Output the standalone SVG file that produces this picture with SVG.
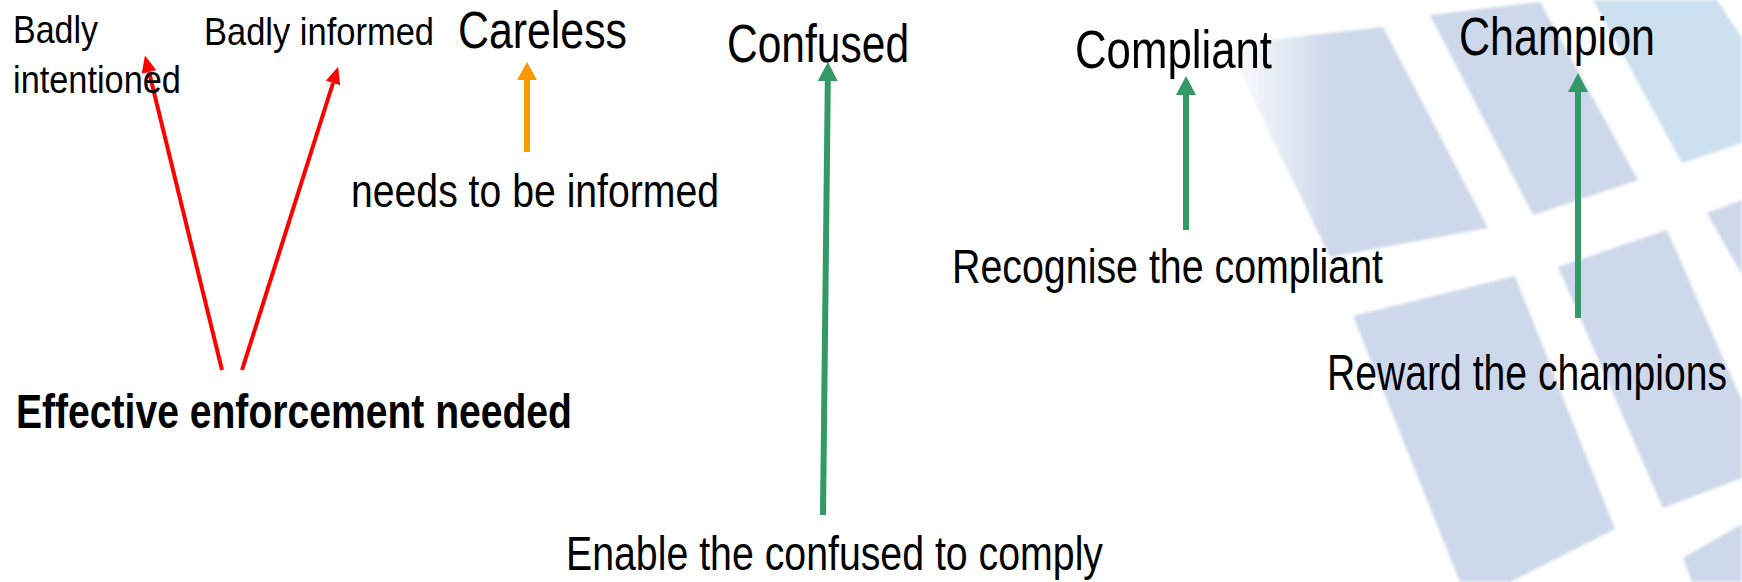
<svg xmlns="http://www.w3.org/2000/svg" width="1742" height="582" viewBox="0 0 1742 582">
<style>
  .t { font-family: "Liberation Sans", Arial, sans-serif; fill: #000; }
  .b { font-weight: bold; }
  .tile { fill: #CDD8EA; }
  .tile2 { fill: #CCE0F0; }
  .red { stroke: #FF0000; stroke-width: 4; fill: none; }
  .org { stroke: #FF9900; stroke-width: 6; fill: none; }
  .grn { stroke: #339966; stroke-width: 6; fill: none; }
</style>
<defs>
  <filter id="soft" x="-5%" y="-5%" width="110%" height="110%"><feGaussianBlur stdDeviation="1.5"/></filter>
  <linearGradient id="fadeL" x1="1225" y1="0" x2="1330" y2="0" gradientUnits="userSpaceOnUse">
    <stop offset="0" stop-color="#CDD8EA" stop-opacity="0"/>
    <stop offset="1" stop-color="#CDD8EA" stop-opacity="1"/>
  </linearGradient>
  <marker id="hRed" markerUnits="userSpaceOnUse" markerWidth="17" markerHeight="15" refX="0" refY="7.5" orient="auto">
    <path d="M0,0 L17,7.5 L0,15 z" fill="#FF0000"/>
  </marker>
  <marker id="hOrg" markerUnits="userSpaceOnUse" markerWidth="18" markerHeight="20" refX="0" refY="10" orient="auto">
    <path d="M0,0 L18,10 L0,20 z" fill="#FF9900"/>
  </marker>
  <marker id="hGrn" markerUnits="userSpaceOnUse" markerWidth="19" markerHeight="20" refX="0" refY="10" orient="auto">
    <path d="M0,0 L19,10 L0,20 z" fill="#339966"/>
  </marker>
</defs>
<rect width="1742" height="582" fill="#FFFFFF"/>
<g id="background" filter="url(#soft)">
  <polygon fill="url(#fadeL)" points="1227,45 1383,27 1488,228 1330,257"/>
  <polygon class="tile" points="1430,15 1540,2 1638,180 1533,215"/>
  <polygon class="tile2" points="1593,0 1717,0 1742,38 1742,143 1682,163"/>
  <polygon class="tile" points="1558,267 1667,230 1742,401 1742,478 1663,508"/>
  <polygon class="tile" points="1707,213 1742,200 1742,275"/>
  <polygon class="tile" points="1353,316 1515,276 1615,529 1510,582 1460,582"/>
  <polygon class="tile" points="1683,558 1742,524 1742,582 1692,582"/>
</g>
<g id="connectors">
  <line class="red" x1="222" y1="370" x2="149" y2="72" marker-end="url(#hRed)"/>
  <line class="red" x1="242" y1="370" x2="333" y2="83" marker-end="url(#hRed)"/>
  <line class="org" x1="527" y1="152" x2="527" y2="80" marker-end="url(#hOrg)"/>
  <line class="grn" x1="823" y1="515" x2="827.8" y2="81" marker-end="url(#hGrn)"/>
  <line class="grn" x1="1186" y1="230" x2="1186" y2="95" marker-end="url(#hGrn)"/>
  <line class="grn" x1="1578" y1="318" x2="1578" y2="92" marker-end="url(#hGrn)"/>
</g>
<g id="badly-intentioned">
  <text class="t" transform="translate(13,43) scale(0.895,1)" font-size="38" textLength="95" lengthAdjust="spacingAndGlyphs">Badly</text>
  <text class="t" transform="translate(13,93) scale(0.904,1)" font-size="38" textLength="185.8" lengthAdjust="spacingAndGlyphs">intentioned</text>
</g>
<g id="badly-informed">
  <text class="t" transform="translate(204,45) scale(0.908,1)" font-size="38" textLength="253.3" lengthAdjust="spacingAndGlyphs">Badly informed</text>
</g>
<g id="careless">
  <text class="t" transform="translate(458,48) scale(0.84,1)" font-size="51" textLength="201.2" lengthAdjust="spacingAndGlyphs">Careless</text>
</g>
<g id="needs-informed">
  <text class="t" transform="translate(351,207) scale(0.834,1)" font-size="47" textLength="441.3" lengthAdjust="spacingAndGlyphs">needs to be informed</text>
</g>
<g id="confused">
  <text class="t" transform="translate(727,62) scale(0.787,1)" font-size="54" textLength="231.3" lengthAdjust="spacingAndGlyphs">Confused</text>
</g>
<g id="enable">
  <text class="t" transform="translate(566,570) scale(0.786,1)" font-size="49" textLength="683.2" lengthAdjust="spacingAndGlyphs">Enable the confused to comply</text>
</g>
<g id="compliant">
  <text class="t" transform="translate(1075,68) scale(0.826,1)" font-size="53" textLength="238.5" lengthAdjust="spacingAndGlyphs">Compliant</text>
</g>
<g id="recognise">
  <text class="t" transform="translate(952,283) scale(0.784,1)" font-size="49" textLength="549.7" lengthAdjust="spacingAndGlyphs">Recognise the compliant</text>
</g>
<g id="champion">
  <text class="t" transform="translate(1459,55) scale(0.81,1)" font-size="53" textLength="242" lengthAdjust="spacingAndGlyphs">Champion</text>
</g>
<g id="reward">
  <text class="t" transform="translate(1327,390) scale(0.762,1)" font-size="50" textLength="525" lengthAdjust="spacingAndGlyphs">Reward the champions</text>
</g>
<g id="enforcement">
  <text class="t b" transform="translate(16,428) scale(0.798,1)" font-size="49" textLength="696.7" lengthAdjust="spacingAndGlyphs">Effective enforcement needed</text>
</g>
</svg>
